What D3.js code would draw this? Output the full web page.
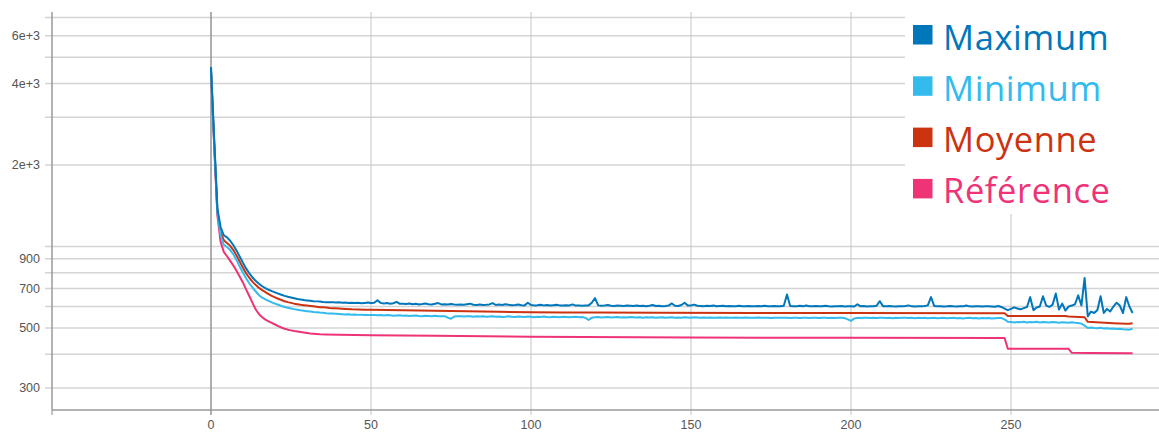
<!DOCTYPE html>
<html><head><meta charset="utf-8">
<script src="https://cdn.jsdelivr.net/npm/d3@7"></script>
<style>body{margin:0;background:#fff} svg{display:block}</style>
</head><body>
<svg id="c" width="1159" height="434"></svg>
<script>
const seriesNames = ["Maximum", "Minimum", "Moyenne", "Référence"];
const seriesColors = ["#0077BB", "#33BBEE", "#CC3311", "#EE3377"];

// Maximum, one value per epoch 0..288
const maxValues = [
4600,2500,1380,1180,1100,1080,1050,1010,965,916,
870,828,795,768,745,728,713,702,692,684,
677,670,663,657,652,648,644,640,637,634,
632,630,628,627,626,624,623,622,623,621,
622,620,621,619,620,618,620,617,619,621,
618,620,633,619,616,618,615,617,624,614,
615,613,616,612,614,611,613,616,612,611,
614,618,611,612,610,613,610,609,611,609,
612,615,609,608,610,608,609,611,618,608,
610,608,612,609,607,608,610,607,606,620,
608,606,607,609,606,608,605,607,609,606,
605,607,606,611,605,606,604,605,606,620,
645,606,604,605,608,604,603,605,604,603,
605,604,603,605,603,604,602,604,608,603,
604,602,603,605,616,604,603,608,620,605,
606,610,604,603,602,604,603,605,602,603,
604,602,603,601,602,604,602,601,603,602,
601,603,602,604,601,602,603,601,602,604,
665,603,601,602,604,601,605,602,601,603,
601,602,604,601,600,602,601,603,600,601,
602,600,612,601,603,600,601,602,604,628,
602,601,603,601,600,602,601,603,606,601,
600,602,601,603,606,650,603,601,602,600,
601,603,601,600,602,601,605,601,600,602,
601,600,602,601,600,599,603,598,590,582,
588,596,590,586,592,598,650,582,595,600,
655,605,598,610,670,585,615,580,600,605,
612,660,605,765,552,575,568,583,655,568,
588,575,600,620,605,568,650,600,568
];

// Minimum, one value per epoch 0..288
const minValues = [
4450,2380,1330,1100,1015,995,970,935,890,841,
800,762,730,704,682,661,647,638,630,622,
615,609,603,598,594,590,587,584,581,579,
577,575,573,572,570,569,567,566,565,564,
563,562,561,562,560,561,559,560,558,559,
558,559,557,558,556,558,557,555,556,557,
555,556,554,555,556,554,553,555,554,553,
555,553,552,553,546,541,551,553,552,551,
553,552,550,552,551,552,550,551,552,550,
551,549,550,552,550,549,551,550,549,551,
550,548,550,549,551,549,548,550,549,548,
550,549,548,549,550,548,549,545,535,546,
548,549,547,548,549,547,548,549,547,548,
547,549,548,547,548,546,548,547,548,546,
547,548,546,547,548,546,547,546,548,547,
546,548,547,546,547,545,547,546,545,547,
546,547,545,546,547,545,546,547,545,546,
545,547,546,545,546,544,546,545,546,545,
546,544,545,546,544,545,546,544,545,546,
544,545,546,544,545,544,546,545,544,538,
531,542,545,544,545,546,544,545,544,546,
545,544,545,543,545,544,545,546,544,545,
543,545,544,545,543,544,545,543,544,545,
543,544,545,543,544,542,544,545,543,544,
542,544,543,544,542,543,544,544,538,527,
526,524,526,525,527,524,526,525,527,524,
526,525,524,526,525,523,525,524,523,525,
523,522,519,510,500,502,500,499,501,498,
499,497,498,496,497,495,494,493,497
];

// Moyenne: [epoch, value]
const moyennePoints = [
[0,4500],[1,2420],[2,1350],[3,1130],[4,1055],[5,1030],[6,1005],[7,970],[8,925],[9,878],
[10,835],[11,795],[12,765],[13,740],[14,720],[15,703],[16,690],[17,678],[18,667],[19,657],
[20,649],[21,641],[22,634],[23,628],[24,623],[25,619],[26,615],[27,612],[28,609],[29,607],
[30,605],[31,603],[32,601],[33,599],[34,597],[35,596],[36,595],[37,593],[38,592],[39,591],
[40,590],[42,588],[44,586],[46,585],[48,584],[50,583.5],[55,582.5],[60,581.5],[70,579.5],
[80,577],[90,574],[100,572],[110,571],[120,570],[140,569],[170,568.5],[200,568],[248,567],
[249,554],[267,554],[268,551],[273,548],[274,527],[278,524],[282,521],[286,518],[287,518],[288,521]
];

// Référence: [epoch, value]
const referencePoints = [
[0,4450],[1,2350],[2,1300],[3,1040],[4,955],[5,920],[6,885],[7,850],[8,812],[9,773],
[10,735],[11,693],[12,655],[13,618],[14,585],[15,562],[16,548],[17,537],[18,529],[19,522],
[20,515],[21,508],[22,502],[23,497],[24,493],[25,490],[26,487],[27,485],[28,483],[29,481],
[30,479],[31,477],[32,476],[33,475],[34,474],[36,473],[40,472],[50,470],[70,468],[100,464],
[150,461],[200,460],[248,459],[249,419],[268,419],[269,405],[275,404],[288,403]
];

const xTicks = [0, 50, 100, 150, 200, 250];
const yGridValues = [300,400,500,600,700,800,900,1000,2000,3000,4000,5000,6000,7000];
const yTickLabels = [[300,"300"],[500,"500"],[700,"700"],[900,"900"],[2000,"2e+3"],[4000,"4e+3"],[6000,"6e+3"]];

(function () {
const W = 1159;
const pL = 51, pR = 1158.2, pT = 12, pB = 410;
const svg = d3.select("#c");

const x = d3.scaleLinear().domain([-50, 296]).range([pL, pR]);
const y = d3.scaleLog().domain([249, 7340]).range([pB, pT]);

// horizontal grid
svg.append("g").selectAll("line").data(yGridValues).join("line")
  .attr("x1", pL - 6).attr("x2", W)
  .attr("y1", d => y(d)).attr("y2", d => y(d))
  .attr("stroke", "#d4d4d4").attr("stroke-width", 1.5);

// vertical grid
svg.append("g").selectAll("line").data(xTicks.filter(d => d !== 0)).join("line")
  .attr("x1", d => x(d)).attr("x2", d => x(d))
  .attr("y1", pT).attr("y2", pB + 5)
  .attr("stroke", "#c4c4c4").attr("stroke-width", 1);

// zero line
svg.append("line").attr("x1", x(0)).attr("x2", x(0)).attr("y1", pT).attr("y2", pB + 5)
  .attr("stroke", "#9a9a9a").attr("stroke-width", 1.6);

// y axis line
svg.append("line").attr("x1", pL + 1).attr("x2", pL + 1).attr("y1", pT).attr("y2", pB)
  .attr("stroke", "#9a9a9a").attr("stroke-width", 1.5);
// x axis line
svg.append("line").attr("x1", pL + 1).attr("x2", W).attr("y1", pB).attr("y2", pB)
  .attr("stroke", "#9a9a9a").attr("stroke-width", 1.5);
// left end tick on x axis
svg.append("line").attr("x1", pL + 1).attr("x2", pL + 1).attr("y1", pB).attr("y2", pB + 5)
  .attr("stroke", "#9a9a9a").attr("stroke-width", 1.2);

// y tick labels
svg.append("g").selectAll("text").data(yTickLabels).join("text")
  .attr("x", pL - 11).attr("y", d => y(d[0]))
  .attr("dy", "0.35em").attr("text-anchor", "end")
  .attr("font-family", "Liberation Sans, Arial, sans-serif").attr("font-size", 12.5)
  .attr("fill", "#555").text(d => d[1]);

// x tick labels
svg.append("g").selectAll("text").data(xTicks).join("text")
  .attr("x", d => x(d)).attr("y", 425).attr("dy", "0.35em").attr("text-anchor", "middle")
  .attr("font-family", "Liberation Sans, Arial, sans-serif").attr("font-size", 12.5)
  .attr("fill", "#555").text(d => d);

// series
const line = d3.line().x(d => x(d[0])).y(d => y(d[1]));
const series = [
  { name: "Référence", pts: referencePoints, color: seriesColors[3] },
  { name: "Moyenne", pts: moyennePoints, color: seriesColors[2] },
  { name: "Minimum", pts: minValues.map((v, i) => [i, v]), color: seriesColors[1] },
  { name: "Maximum", pts: maxValues.map((v, i) => [i, v]), color: seriesColors[0] }
];
svg.append("g").selectAll("path").data(series).join("path")
  .attr("d", d => line(d.pts)).attr("fill", "none")
  .attr("stroke", d => d.color).attr("stroke-width", 2)
  .attr("stroke-linejoin", "round");

// legend
const lg = svg.append("g");
lg.append("rect").attr("x", 905).attr("y", 0).attr("width", W - 905).attr("height", 214).attr("fill", "#fff");
const items = lg.selectAll("g.item").data(seriesNames).join("g").attr("class", "item")
  .attr("transform", (d, i) => `translate(913, ${25 + i * 51.3})`);
items.append("rect").attr("width", 19.5).attr("height", 19.5).attr("fill", (d, i) => seriesColors[i]);
items.append("text").attr("x", 30).attr("y", 24.5)
  .attr("font-family", "'Open Sans', Lato, sans-serif").attr("font-size", 34.5).attr("font-weight", 400)
  .attr("letter-spacing", 0.6)
  .attr("fill", (d, i) => seriesColors[i]).text(d => d);
})();
</script>
</body></html>
